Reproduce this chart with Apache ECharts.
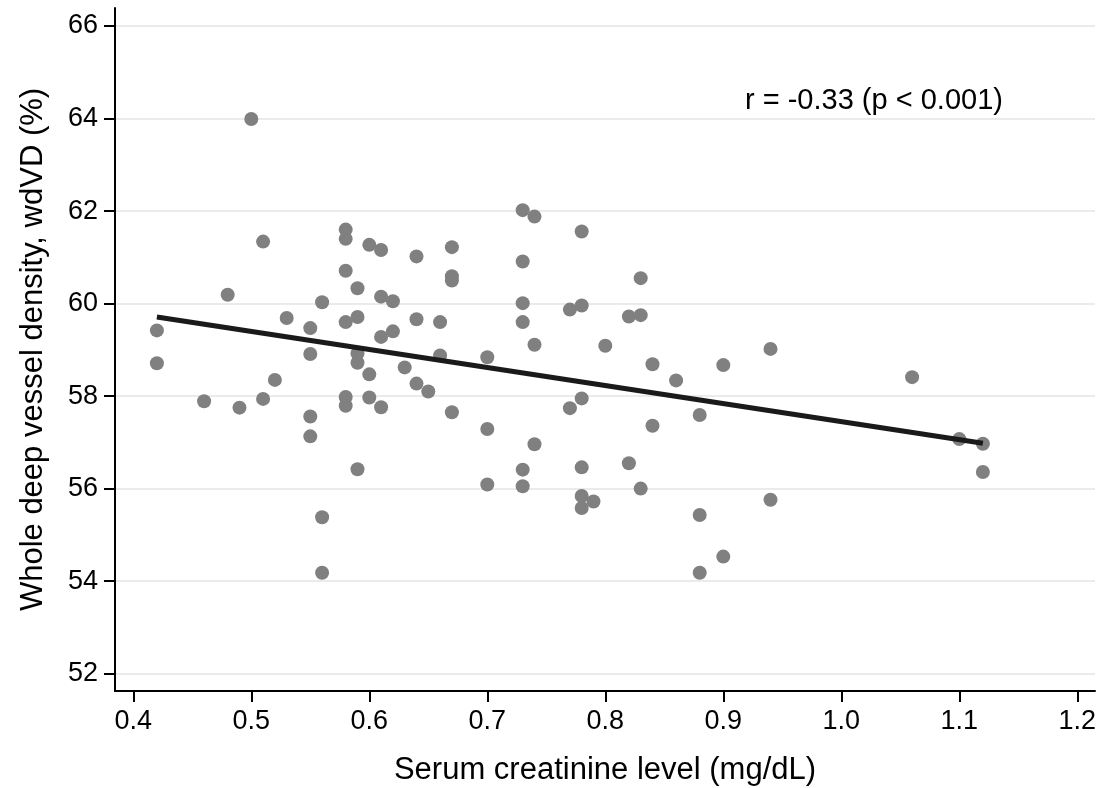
<!DOCTYPE html>
<html>
<head>
<meta charset="utf-8">
<title>wdVD vs serum creatinine</title>
<script src="https://cdn.jsdelivr.net/npm/echarts@6/dist/echarts.min.js"></script>
<style>
  html, body { margin: 0; padding: 0; background: #fff; }
  #main { width: 1114px; height: 788px; }
</style>
</head>
<body>
<div id="main"></div>
<script>
// serum creatinine (mg/dL) and whole deep vessel density (%) per eye
var creatinine = [
  0.42, 0.42, 0.46, 0.48, 0.49, 0.50, 0.51, 0.51, 0.52, 0.53,
  0.55, 0.55, 0.55, 0.55, 0.56, 0.56, 0.56,
  0.58, 0.58, 0.58, 0.58, 0.58, 0.58,
  0.59, 0.59, 0.59, 0.59, 0.59,
  0.60, 0.60, 0.60, 0.61, 0.61, 0.61, 0.61,
  0.62, 0.62, 0.63, 0.64, 0.64, 0.64, 0.65, 0.66, 0.66,
  0.67, 0.67, 0.67, 0.67, 0.70, 0.70, 0.70,
  0.73, 0.73, 0.73, 0.73, 0.73, 0.73, 0.74, 0.74, 0.74,
  0.77, 0.77, 0.78, 0.78, 0.78, 0.78, 0.78, 0.78, 0.79, 0.80,
  0.82, 0.82, 0.83, 0.83, 0.83, 0.84, 0.84, 0.86,
  0.88, 0.88, 0.88, 0.90, 0.90, 0.94, 0.94, 1.06, 1.10, 1.12, 1.12
];
var wdvd = [
  59.42, 58.71, 57.89, 60.19, 57.75, 63.99, 61.34, 57.94, 58.35, 59.69,
  59.47, 58.91, 57.56, 57.13, 60.03, 55.38, 54.18,
  61.60, 61.40, 60.71, 59.60, 57.98, 57.79,
  60.33, 59.71, 58.92, 58.72, 56.42,
  61.27, 58.47, 57.97, 61.16, 60.15, 59.28, 57.76,
  60.05, 59.40, 58.62, 61.02, 59.66, 58.27, 58.10, 59.60, 58.88,
  61.22, 60.59, 60.50, 57.65, 58.84, 57.29, 56.09,
  62.02, 60.91, 60.01, 59.60, 56.41, 56.05, 61.88, 59.11, 56.96,
  59.87, 57.74, 61.56, 59.96, 57.95, 56.46, 55.84, 55.58, 55.72, 59.09,
  59.72, 56.55, 60.55, 59.75, 56.00, 58.69, 57.36, 58.34,
  57.59, 55.43, 54.18, 58.67, 54.53, 59.02, 55.76, 58.41, 57.07, 56.97, 56.36
];

// fitted regression line end points
var fitX = [0.42, 1.12];
var fitY = [59.71, 56.98];

var xTicks = [0.4, 0.5, 0.6, 0.7, 0.8, 0.9, 1.0, 1.1, 1.2];
var yTicks = [52, 54, 56, 58, 60, 62, 64, 66];

var statText = 'r = -0.33 (p < 0.001)';

var FONT = '"Liberation Sans", Arial, sans-serif';

var points = creatinine.map(function (x, i) { return [x, wdvd[i]]; });
var fitLine = fitX.map(function (x, i) { return [x, fitY[i]]; });

var myChart = echarts.init(document.getElementById('main'));
myChart.setOption({
  animation: false,
  backgroundColor: '#fff',
  textStyle: { fontFamily: FONT },
  grid: {
    left: 115,
    right: 19,
    top: 8,
    bottom: 97,
    outerBoundsMode: 'none'
  },
  xAxis: {
    type: 'value',
    min: 0.3845,
    max: 1.215,
    name: 'Serum creatinine level (mg/dL)',
    nameLocation: 'middle',
    nameGap: 64,
    nameTextStyle: { fontSize: 31, color: '#000', fontFamily: FONT },
    axisLine: { show: true, onZero: false, lineStyle: { color: '#000', width: 2 } },
    axisTick: {
      show: true,
      customValues: xTicks,
      length: 11,
      lineStyle: { color: '#000', width: 2 }
    },
    axisLabel: {
      customValues: xTicks,
      fontSize: 27,
      color: '#000',
      margin: 17,
      formatter: function (v) { return v.toFixed(1); }
    },
    splitLine: { show: false }
  },
  yAxis: {
    type: 'value',
    min: 51.625,
    max: 66.39,
    name: 'Whole deep vessel density, wdVD (%)',
    nameLocation: 'middle',
    nameGap: 66,
    nameTextStyle: { fontSize: 31, color: '#000', fontFamily: FONT },
    axisLine: { show: true, onZero: false, lineStyle: { color: '#000', width: 2 } },
    axisTick: {
      show: true,
      customValues: yTicks,
      length: 11,
      lineStyle: { color: '#000', width: 2 }
    },
    axisLabel: {
      customValues: yTicks,
      fontSize: 27,
      color: '#000',
      margin: 17
    },
    splitLine: { show: true, lineStyle: { color: '#ebebeb', width: 2 } }
  },
  series: [
    {
      name: 'eyes',
      type: 'scatter',
      data: points,
      symbolSize: 14,
      itemStyle: { color: '#808080', opacity: 1 },
      z: 2
    },
    {
      name: 'fit',
      type: 'line',
      data: fitLine,
      showSymbol: false,
      symbol: 'none',
      lineStyle: { color: '#1a1a1a', width: 5 },
      z: 3
    }
  ],
  graphic: [
    {
      type: 'text',
      left: 745,
      top: 86,
      style: {
        text: statText,
        font: '29px ' + FONT,
        fill: '#000'
      }
    }
  ]
});
window.addEventListener('resize', function () {
  myChart.resize();
});
</script>
</body>
</html>
